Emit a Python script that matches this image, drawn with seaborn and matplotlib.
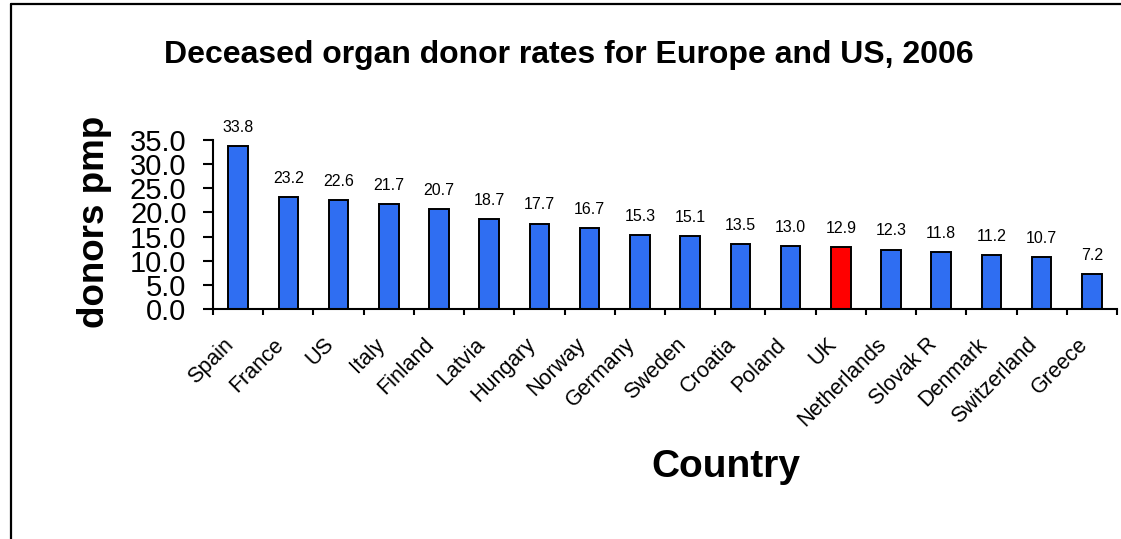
import matplotlib
matplotlib.use("Agg")
import matplotlib.pyplot as plt
from matplotlib.lines import Line2D
from matplotlib.transforms import ScaledTranslation
import seaborn as sns
import pandas as pd

countries = ["Spain", "France", "US", "Italy", "Finland", "Latvia", "Hungary",
             "Norway", "Germany", "Sweden", "Croatia", "Poland", "UK",
             "Netherlands", "Slovak R", "Denmark", "Switzerland", "Greece"]
rates = [33.8, 23.2, 22.6, 21.7, 20.7, 18.7, 17.7, 16.7, 15.3, 15.1, 13.5,
         13.0, 12.9, 12.3, 11.8, 11.2, 10.7, 7.2]
highlight = "UK"
yticks = [0, 5, 10, 15, 20, 25, 30, 35]

sns.set_theme(style="white")
plt.rcParams['font.family'] = ['Liberation Sans', 'DejaVu Sans']
plt.rcParams['text.color'] = 'black'
plt.rcParams['xtick.color'] = 'black'
plt.rcParams['ytick.color'] = 'black'
plt.rcParams['axes.labelcolor'] = 'black'

df = pd.DataFrame({"country": countries, "rate": rates})
palette = {c: ("#FF0000" if c == highlight else "#2F6EF2") for c in countries}

W, H = 1121, 539
fig = plt.figure(figsize=(W / 100, H / 100), dpi=100)
ax = fig.add_axes([213 / W, 1 - 309 / H, (1117 - 213) / W, (309 - 140) / H])

sns.barplot(data=df, x="country", y="rate", hue="country", palette=palette,
            legend=False, width=0.39, edgecolor="black", linewidth=1.4,
            saturation=1, ax=ax)

for cont in ax.containers:
    ax.bar_label(cont, fmt="%.1f", padding=8, fontsize=11.5, color="black")

ax.set_xlim(-0.5, len(countries) - 0.5)
ax.set_ylim(0, 35)
ax.set_yticks(yticks)
ax.set_yticklabels([f"{v:.1f}" for v in yticks], fontsize=21)
ax.set_xticks(range(len(countries)))
ax.set_xticklabels(countries, rotation=45, ha="right", rotation_mode="anchor",
                   fontsize=15.5)
ax.set_xticks([i - 0.5 for i in range(len(countries) + 1)], minor=True)
ax.tick_params(axis="x", which="major", length=0, pad=18)
ax.tick_params(axis="x", which="minor", length=4.5, width=1.5, direction="out",
               bottom=True, color="black")
ax.tick_params(axis="y", which="major", length=7, width=1.5, direction="out",
               left=True, pad=12, color="black")
shift = ScaledTranslation(-0.15, 0, fig.dpi_scale_trans)
for lab in ax.get_xticklabels():
    lab.set_transform(lab.get_transform() + shift)
ax.set_xlabel("")
ax.set_ylabel("")
for s in ["top", "right"]:
    ax.spines[s].set_visible(False)
for s in ["left", "bottom"]:
    ax.spines[s].set_color("black")
    ax.spines[s].set_linewidth(1.5)

fig.text(569 / W, 1 - 55 / H, "Deceased organ donor rates for Europe and US, 2006",
         ha="center", va="center", fontsize=23, fontweight="bold", color="black")
fig.text(95 / W, 1 - 222 / H, "donors pmp", ha="center", va="center",
         rotation=90, fontsize=26.5, fontweight="bold", color="black")
fig.text(726 / W, 1 - 467 / H, "Country", ha="center", va="center",
         fontsize=28, fontweight="bold", color="black")

x0 = 11 / W
y0 = 1 - 4 / H
fig.add_artist(Line2D([x0, x0], [-0.05, y0], transform=fig.transFigure,
                      color="black", linewidth=1.6))
fig.add_artist(Line2D([x0, 1.05], [y0, y0], transform=fig.transFigure,
                      color="black", linewidth=1.6))

fig.savefig("out.png", dpi=100)
